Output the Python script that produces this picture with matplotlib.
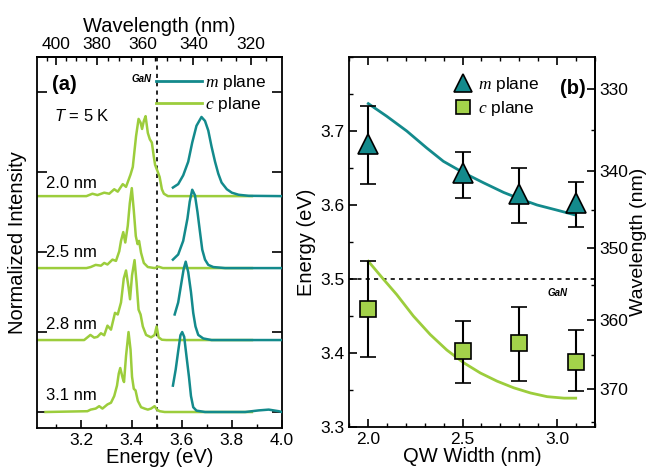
import numpy as np
import matplotlib
matplotlib.use("Agg")
import matplotlib.pyplot as plt
from matplotlib.ticker import MultipleLocator, NullFormatter, FixedLocator
from matplotlib.lines import Line2D

plt.rcParams['font.family'] = ['Liberation Sans', 'DejaVu Sans']
plt.rcParams['mathtext.fontset'] = 'custom'
plt.rcParams['mathtext.it'] = 'Liberation Serif:italic'
plt.rcParams['mathtext.rm'] = 'Liberation Sans'
plt.rcParams['mathtext.sf'] = 'Liberation Sans:italic'

TEAL = '#138a8c'
GREEN = '#9ccd3c'
SQ_FACE = '#a3d24a'

# ---------------- Panel (a) spectra ----------------
widths_labels = ['2.0 nm', '2.5 nm', '2.8 nm', '3.1 nm']
offsets = [2.7, 1.8, 0.9, 0.0]

c20_E = [3.023, 3.22, 3.244, 3.264, 3.291, 3.311, 3.331, 3.345, 3.365, 3.378, 3.396, 3.405, 3.418, 3.428,
         3.436, 3.442, 3.449, 3.456, 3.465, 3.473, 3.481, 3.489, 3.494, 3.505, 3.512, 3.521, 3.529, 3.545, 3.88]
c20_I = [0, 0, 0.03, 0.013, 0.043, 0.03, 0.086, 0.056, 0.15, 0.116, 0.27, 0.365, 0.75, 0.966,
         0.92, 0.84, 0.94, 1.0, 0.79, 0.71, 0.67, 0.49, 0.39, 0.30, 0.24, 0.086, 0.03, 0, 0]
m20_E = [3.565, 3.586, 3.606, 3.626, 3.642, 3.659, 3.679, 3.693, 3.706, 3.719, 3.733, 3.746, 3.759,
         3.780, 3.800, 3.827, 3.867, 4.0]
m20_I = [0.107, 0.15, 0.26, 0.43, 0.67, 0.88, 0.99, 0.94, 0.82, 0.62, 0.43, 0.28, 0.17,
         0.086, 0.043, 0.017, 0.004, 0]

c25_E = [3.023, 3.22, 3.237, 3.257, 3.278, 3.291, 3.304, 3.324, 3.338, 3.351, 3.358, 3.367, 3.375, 3.385,
         3.393, 3.401, 3.409, 3.417, 3.424, 3.430, 3.438, 3.449, 3.465, 3.492, 3.508, 3.525, 3.88]
c25_I = [0, 0, 0.013, 0.04, 0.03, 0.064, 0.045, 0.106, 0.09, 0.21, 0.34, 0.45, 0.32, 0.53,
         0.81, 1.0, 0.72, 0.40, 0.30, 0.34, 0.19, 0.064, 0.013, 0, 0.017, 0, 0]
m25_E = [3.565, 3.586, 3.606, 3.623, 3.632, 3.642, 3.653, 3.663, 3.673, 3.682, 3.693, 3.706, 3.726,
         3.773, 4.0]
m25_I = [0.106, 0.17, 0.34, 0.62, 0.83, 0.98, 0.91, 0.70, 0.45, 0.23, 0.106, 0.04, 0.013, 0, 0]

c28_E = [3.023, 3.211, 3.236, 3.251, 3.264, 3.278, 3.291, 3.304, 3.318, 3.334, 3.345, 3.358, 3.369, 3.378,
         3.388, 3.394, 3.402, 3.412, 3.420, 3.428, 3.436, 3.445, 3.458, 3.478, 3.492, 3.500, 3.508,
         3.521, 3.539, 3.88]
c28_I = [0, 0, 0.064, 0.03, 0.04, 0.085, 0.06, 0.18, 0.13, 0.34, 0.32, 0.47, 0.77, 0.87,
         0.66, 0.51, 0.81, 1.0, 0.72, 0.38, 0.32, 0.17, 0.064, 0.034, 0.064, 0.17, 0.034,
         0.004, 0, 0]
m28_E = [3.572, 3.586, 3.599, 3.608, 3.616, 3.626, 3.637, 3.646, 3.655, 3.666, 3.686, 3.719, 4.0]
m28_I = [0.32, 0.47, 0.72, 0.89, 0.98, 0.85, 0.60, 0.34, 0.17, 0.064, 0.02, 0, 0]

c31_E = [3.057, 3.224, 3.237, 3.257, 3.271, 3.284, 3.304, 3.318, 3.331, 3.342, 3.349, 3.355, 3.365, 3.370,
         3.378, 3.388, 3.396, 3.402, 3.409, 3.416, 3.425, 3.438, 3.452, 3.465, 3.478, 3.492, 3.501,
         3.512, 3.532, 3.88]
c31_I = [0, 0.01, 0.03, 0.043, 0.073, 0.043, 0.095, 0.116, 0.20, 0.33, 0.48, 0.55, 0.42, 0.375,
         0.70, 1.0, 0.78, 0.44, 0.29, 0.27, 0.14, 0.06, 0.043, 0.03, 0.043, 0.073, 0.03,
         0.01, 0, 0]
m31_E = [3.565, 3.576, 3.586, 3.595, 3.602, 3.610, 3.619, 3.629, 3.637, 3.646, 3.659, 3.693, 3.853,
         3.907, 3.947, 3.987, 4.0]
m31_I = [0.33, 0.53, 0.76, 0.96, 1.0, 0.94, 0.70, 0.44, 0.20, 0.06, 0.017, 0, 0,
         0.02, 0.03, 0.01, 0]

c_spectra = [(c20_E, c20_I), (c25_E, c25_I), (c28_E, c28_I), (c31_E, c31_I)]
m_spectra = [(m20_E, m20_I), (m25_E, m25_I), (m28_E, m28_I), (m31_E, m31_I)]

gan_energy = 3.50

# ---------------- Panel (b) data ----------------
qw_width = [2.0, 2.5, 2.8, 3.1]
m_energy = [3.682, 3.643, 3.615, 3.603]
m_err_hi = [3.734, 3.672, 3.650, 3.631]
m_err_lo = [3.628, 3.609, 3.576, 3.570]
c_energy = [3.459, 3.403, 3.413, 3.388]
c_err_hi = [3.524, 3.443, 3.462, 3.431]
c_err_lo = [3.395, 3.360, 3.362, 3.348]

m_model_w = [2.002, 2.099, 2.205, 2.311, 2.399, 2.502, 2.611, 2.717, 2.806, 2.894, 3.0, 3.089]
m_model_E = [3.737, 3.720, 3.700, 3.677, 3.659, 3.644, 3.630, 3.617, 3.608, 3.600, 3.593, 3.587]
c_model_w = [2.002, 2.081, 2.152, 2.240, 2.329, 2.417, 2.505, 2.594, 2.682, 2.770, 2.859, 2.947, 3.036, 3.098]
c_model_E = [3.524, 3.500, 3.479, 3.450, 3.425, 3.404, 3.387, 3.373, 3.362, 3.353, 3.346, 3.341, 3.339, 3.339]

HC = 1239.84


def ev_nm(x):
    x = np.asarray(x, dtype=float)
    with np.errstate(divide='ignore', invalid='ignore'):
        return HC / x


fig = plt.figure(figsize=(6.48, 4.76), dpi=100)
axA = fig.add_axes([37/648, 48/476, 245/648, 371/476])
axB = fig.add_axes([349/648, 49/476, 246/648, 370/476])

TICK = 12.5
LBL = 14.5

# ----- panel a -----
for (E, I), off in zip(c_spectra, offsets):
    axA.plot(E, np.array(I) + off, color=GREEN, lw=1.8, zorder=2)
for (E, I), off in zip(m_spectra, offsets):
    axA.plot(E, np.array(I) + off, color=TEAL, lw=1.8, zorder=3)
axA.axvline(gan_energy, color='k', ls=(0, (2.5, 2.5)), lw=1.2, zorder=1)
axA.set_xlim(3.023, 4.0)
axA.set_ylim(-0.2, 4.44)
axA.xaxis.set_major_locator(MultipleLocator(0.2))
axA.xaxis.set_minor_locator(MultipleLocator(0.1))
axA.yaxis.set_major_locator(MultipleLocator(1.0))
axA.yaxis.set_major_formatter(NullFormatter())
axA.tick_params(axis='both', which='both', direction='in', labelsize=TICK)
axA.tick_params(axis='x', which='major', length=6, width=1.2, top=False)
axA.tick_params(axis='x', which='minor', length=3, width=1.0, top=False)
axA.tick_params(axis='y', which='major', length=7, width=1.2, left=True, right=True)
axA.set_xlabel('Energy (eV)', fontsize=LBL, labelpad=0)
axA.set_ylabel('Normalized Intensity', fontsize=LBL, labelpad=4)
for s in axA.spines.values():
    s.set_linewidth(1.3)

secA = axA.secondary_xaxis('top', functions=(ev_nm, ev_nm))
secA.xaxis.set_major_locator(FixedLocator([400, 380, 360, 340, 320]))
secA.xaxis.set_minor_locator(FixedLocator(list(range(315, 410, 5))))
secA.tick_params(axis='x', which='both', direction='in', labelsize=TICK)
secA.tick_params(axis='x', which='major', length=6, width=1.2)
secA.tick_params(axis='x', which='minor', length=3, width=1.0)
secA.set_xlabel('Wavelength (nm)', fontsize=LBL, labelpad=4)
secA.spines['top'].set_linewidth(1.3)

label_y = [2.86, 1.99, 1.10, 0.21]
for lab, y in zip(widths_labels, label_y):
    axA.text(3.057, y, lab, fontsize=12, ha='left', va='center')
axA.text(3.084, 4.09, '(a)', fontsize=14.5, fontweight='bold', ha='left', va='center')
axA.text(3.09, 3.70, r'$\mathsf{T}$ = 5 K', fontsize=12, ha='left', va='center')
axA.text(3.478, 4.17, 'GaN', fontsize=7, fontweight='bold', style='italic', ha='right', va='center')
axA.plot([], [], color=TEAL, lw=2, label=r'$m$ plane')
axA.plot([], [], color=GREEN, lw=2, label=r'$c$ plane')
axA.legend(loc='upper right', bbox_to_anchor=(0.985, 0.99), frameon=False, fontsize=12.5,
           handlelength=2.6, handletextpad=0.2, labelspacing=0.2, borderpad=0.2)

# ----- panel b -----
axB.axhline(gan_energy, color='k', ls=(0, (2.5, 2.5)), lw=1.2, zorder=1)
axB.plot(m_model_w, m_model_E, color=TEAL, lw=2, zorder=2)
axB.plot(c_model_w, c_model_E, color=GREEN, lw=2, zorder=2)
m_yerr = [np.array(m_energy) - np.array(m_err_lo), np.array(m_err_hi) - np.array(m_energy)]
c_yerr = [np.array(c_energy) - np.array(c_err_lo), np.array(c_err_hi) - np.array(c_energy)]
axB.errorbar(qw_width, m_energy, yerr=m_yerr, fmt='^', ms=15, mfc=TEAL, mec='k', mew=1.2,
             ecolor='k', elinewidth=1.5, capsize=6, capthick=1.5, zorder=3)
axB.errorbar(qw_width, c_energy, yerr=c_yerr, fmt='s', ms=12, mfc=SQ_FACE, mec='k', mew=1.2,
             ecolor='k', elinewidth=1.5, capsize=6, capthick=1.5, zorder=3)
axB.set_xlim(1.9, 3.2)
axB.set_ylim(3.3, 3.8)
axB.xaxis.set_major_locator(FixedLocator([2.0, 2.5, 3.0]))
axB.xaxis.set_minor_locator(MultipleLocator(0.1))
axB.yaxis.set_major_locator(FixedLocator([3.3, 3.4, 3.5, 3.6, 3.7]))
axB.yaxis.set_minor_locator(MultipleLocator(0.05))
axB.tick_params(axis='both', which='both', direction='in', labelsize=TICK)
axB.tick_params(axis='x', which='both', top=True)
axB.tick_params(axis='both', which='major', length=6, width=1.2)
axB.tick_params(axis='both', which='minor', length=3, width=1.0)
axB.set_xlabel('QW Width (nm)', fontsize=LBL, labelpad=0)
axB.set_ylabel('Energy (eV)', fontsize=LBL, labelpad=3)
for s in axB.spines.values():
    s.set_linewidth(1.3)

secB = axB.secondary_yaxis('right', functions=(ev_nm, ev_nm))
secB.yaxis.set_major_locator(FixedLocator([330, 340, 350, 360, 370]))
secB.yaxis.set_minor_locator(FixedLocator(list(range(325, 380, 5))))
secB.tick_params(axis='y', which='both', direction='in', labelsize=TICK, pad=3)
secB.tick_params(axis='y', which='major', length=6, width=1.2)
secB.tick_params(axis='y', which='minor', length=3, width=1.0)
secB.set_ylabel('Wavelength (nm)', fontsize=14, labelpad=1)
secB.spines['right'].set_linewidth(1.3)

axB.text(3.0, 3.481, 'GaN', fontsize=7, fontweight='bold', style='italic', ha='center', va='center')
axB.text(3.085, 3.757, '(b)', fontsize=14.5, fontweight='bold', ha='center', va='center')
handles = [Line2D([], [], ls='none', marker='^', ms=13, mfc=TEAL, mec='k', mew=1.2),
           Line2D([], [], ls='none', marker='s', ms=10, mfc=SQ_FACE, mec='k', mew=1.2)]
axB.legend(handles, [r'$m$ plane', r'$c$ plane'], loc='upper left', bbox_to_anchor=(0.37, 0.985),
           frameon=False, fontsize=12.5, handletextpad=0.3, labelspacing=0.3, borderpad=0.2,
           handlelength=1.2)

fig.savefig('out.png', dpi=100)
